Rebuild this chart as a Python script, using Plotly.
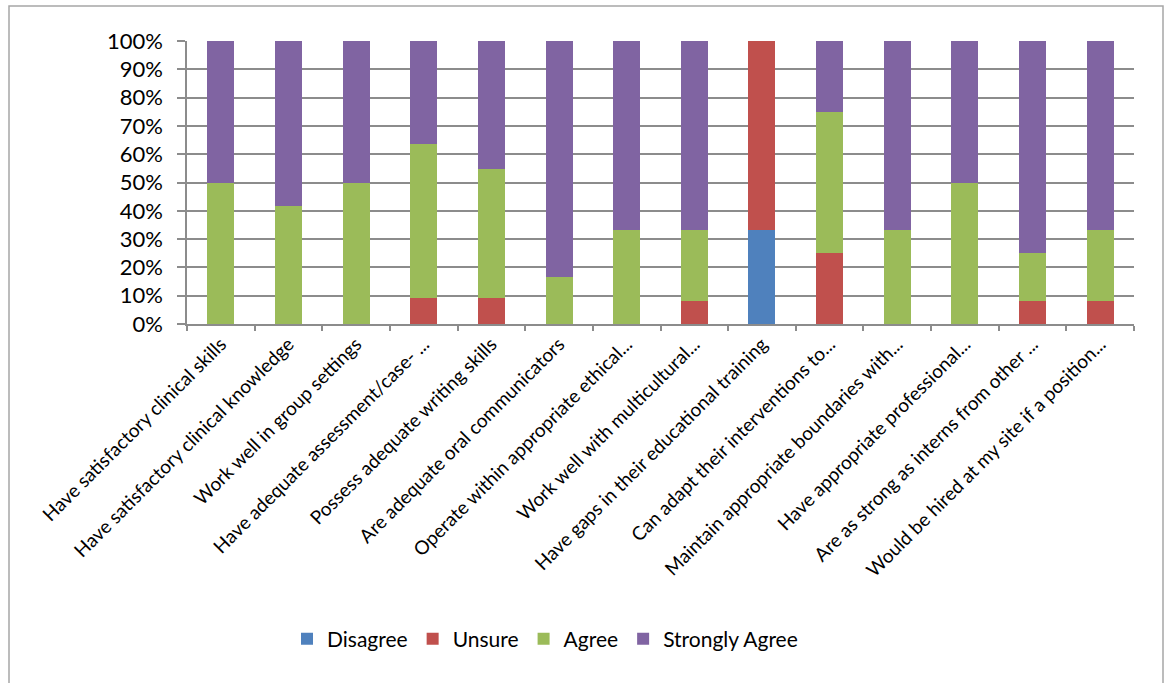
import plotly.graph_objects as go

# Survey items (x-axis categories)
categories = [
    "Have satisfactory clinical skills",
    "Have satisfactory clinical knowledge",
    "Work well in group settings",
    "Have adequate assessment/case- ...",
    "Possess adequate writing skills",
    "Are adequate oral communicators",
    "Operate within appropriate ethical...",
    "Work well with multicultural...",
    "Have gaps in their educational training",
    "Can adapt their interventions to...",
    "Maintain appropriate boundaries with...",
    "Have appropriate professional...",
    "Are as strong as interns from other ...",
    "Would be hired at my site if a position...",
]

# Share of responses (%) per rating
disagree = [0, 0, 0, 0, 0, 0, 0, 0, 33.3, 0, 0, 0, 0, 0]
unsure = [0, 0, 0, 9.1, 9.1, 0, 0, 8.3, 66.7, 25.0, 0, 0, 8.3, 8.3]
agree = [50.0, 41.7, 50.0, 54.5, 45.5, 16.7, 33.3, 25.0, 0, 50.0, 33.3, 50.0, 16.7, 25.0]
strongly_agree = [50.0, 58.3, 50.0, 36.4, 45.5, 83.3, 66.7, 66.7, 0, 25.0, 66.7, 50.0, 75.0, 66.7]

series = [
    ("Disagree", disagree, "#4F81BD"),
    ("Unsure", unsure, "#C0504D"),
    ("Agree", agree, "#9BBB59"),
    ("Strongly Agree", strongly_agree, "#8064A2"),
]

y_ticks = list(range(0, 101, 10))

FONT = "Lato, 'Open Sans', sans-serif"
GRID = "#8c8c8c"

W, H = 1169, 683
ML, MR, MT, MB = 187, 35, 41, 359
PW, PH = W - ML - MR, H - MT - MB

fig = go.Figure()
for name, vals, color in series:
    fig.add_trace(go.Bar(
        x=categories, y=vals, name=name,
        marker=dict(color=color, line=dict(width=0)),
    ))


def px_to_paper_x(px):
    return (px - ML) / PW


def px_to_paper_y(py):
    return (H - MB - py) / PH


# Thin frame around the whole chart
fig.add_shape(
    type="rect", xref="paper", yref="paper",
    x0=px_to_paper_x(9), x1=px_to_paper_x(1163),
    y0=px_to_paper_y(700), y1=px_to_paper_y(6),
    line=dict(color="#a6a6a6", width=1.5), fillcolor="rgba(0,0,0,0)",
    layer="below",
)

fig.update_layout(
    width=W, height=H,
    margin=dict(l=ML, r=MR, t=MT, b=MB, autoexpand=False),
    barmode="stack",
    bargap=0.6,
    paper_bgcolor="white",
    plot_bgcolor="white",
    font=dict(family=FONT, color="black"),
    showlegend=True,
    legend=dict(
        orientation="h", x=px_to_paper_x(545), xanchor="center",
        y=px_to_paper_y(639), yanchor="middle",
        font=dict(size=21, family=FONT),
        itemwidth=30,
        traceorder="normal",
    ),
    xaxis=dict(
        type="category",
        tickangle=-45,
        tickfont=dict(size=19, family=FONT),
        showline=True, linecolor=GRID, linewidth=1.5,
        ticks="outside", tickson="boundaries", ticklen=5,
        tickcolor=GRID, tickwidth=1.5,
        showgrid=False,
    ),
    yaxis=dict(
        range=[0, 100],
        tickvals=y_ticks,
        ticktext=[f"{v}%" for v in y_ticks],
        tickfont=dict(size=22, family=FONT),
        showgrid=True, gridcolor=GRID, gridwidth=1.5,
        showline=True, linecolor=GRID, linewidth=1.5,
        ticks="outside", ticklen=8, tickcolor=GRID, tickwidth=1.5,
        ticklabelstandoff=10,
        zeroline=False,
    ),
)

fig.write_html("out.html")
